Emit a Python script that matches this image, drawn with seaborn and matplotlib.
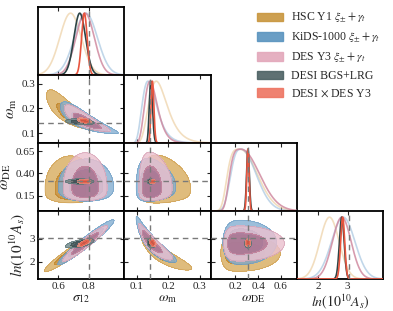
import numpy as np
import seaborn as sns
import matplotlib
matplotlib.use("Agg")
import matplotlib.pyplot as plt
from matplotlib.patches import Patch

sns.set_theme(style="ticks")
plt.rcParams['font.family'] = ['Liberation Serif', 'DejaVu Serif']
plt.rcParams['mathtext.fontset'] = 'stix'

# posterior summaries, one entry per probe
probes = ['HSC Y1 $\\xi_{\\pm}+\\gamma_{t}$',
          'KiDS-1000 $\\xi_{\\pm}+\\gamma_{t}$',
          'DES Y3 $\\xi_{\\pm}+\\gamma_{t}$',
          'DESI BGS+LRG',
          'DESI $\\times$ DES Y3']

s12_mean = [0.68, 0.78, 0.775, 0.74, 0.77]
s12_sd = [0.07, 0.075, 0.06, 0.038, 0.018]

omm_shift = 0.07          # omega_m modelled as log-normal in (omega_m - shift)
omm_median = [0.172, 0.144, 0.148, 0.145, 0.150]
omm_logsd = [0.32, 0.345, 0.28, 0.067, 0.056]

lnas_mean = [2.38, 2.85, 2.80, 2.80, 2.83]
lnas_sd = [0.33, 0.40, 0.32, 0.08, 0.07]

# omega_DE: split generalised gaussian (flat-topped for weak lensing)
wde_center = [0.24, 0.25, 0.25, 0.31, 0.31]
wde_sd_left = [0.11, 0.09, 0.10, 0.012, 0.010]
wde_sd_right = [0.15, 0.13, 0.16, 0.012, 0.010]
wde_pow_left = [4, 3, 4, 2, 2]
wde_pow_right = [2, 2, 2, 2, 2]

rho_s12_omm = [-0.85, -0.85, -0.85, -0.3, -0.5]
rho_s12_lnas = [0.95, 0.96, 0.95, 0.6, 0.8]
rho_omm_lnas = [-0.90, -0.92, -0.90, -0.3, -0.4]

truth = [0.80, 0.142, 0.31, 3.044]

param_labels = ['$\\sigma_{12}$', '$\\omega_{\\rm m}$', '$\\omega_{\\rm DE}$', '$ln(10^{10}A_s)$']
limits = [(0.468, 1.03), (0.06, 0.335), (-0.02, 0.74), (1.26, 4.21)]
ticks = [[0.6, 0.8], [0.1, 0.2, 0.3], [0.15, 0.40, 0.65], [2, 3]]
xticks = [[0.6, 0.8], [0.1, 0.2, 0.3], [0.2, 0.4, 0.6], [2, 3]]
ytick_fmt = ['%.1f', '%.1f', '%.2f', '%d']
xtick_fmt = ['%.1f', '%.1f', '%.1f', '%d']

# styles
fill_outer = ['#d9ad60', '#86b0d2', '#ebc1cf', '#6e8a8c', '#f4a18f']
fill_inner = ['#c08428', '#4a84b3', '#bd7894', '#34494b', '#e85a44']
line_cols = ['#e8c38c', '#8fb6d8', '#d08aa0', '#2c4446', '#e8553f']
line_alpha = [0.55, 0.55, 0.85, 1.0, 1.0]
legend_cols = ['#c8963e', '#5a94bf', '#e3a8bb', '#4d6264', '#ee7562']


def z_of(k, p, v):
    """standardised variable and jacobian for the gaussian-like params"""
    if p == 0:
        return (v - s12_mean[k]) / s12_sd[k], np.ones_like(v)
    if p == 1:
        d = np.clip(v - omm_shift, 1e-9, None)
        z = (np.log(d) - np.log(omm_median[k] - omm_shift)) / omm_logsd[k]
        jac = np.where(v > omm_shift, 1.0 / d, 0.0)
        return z, jac
    return (v - lnas_mean[k]) / lnas_sd[k], np.ones_like(v)


def wde_pdf(k, v):
    c = wde_center[k]
    left = v < c
    s = np.where(left, wde_sd_left[k], wde_sd_right[k])
    pw = np.where(left, wde_pow_left[k], wde_pow_right[k])
    return np.exp(-0.5 * np.abs((v - c) / s) ** pw)


def pdf1d(k, p, v):
    if p == 2:
        return wde_pdf(k, v)
    z, jac = z_of(k, p, v)
    return np.exp(-0.5 * z ** 2) * jac


def rho_of(k, p1, p2):
    pair = tuple(sorted((p1, p2)))
    return {(0, 1): rho_s12_omm, (0, 3): rho_s12_lnas, (1, 3): rho_omm_lnas}[pair][k]


def pdf2d(k, p1, X, p2, Y):
    if p1 == 2 or p2 == 2:
        return pdf1d(k, p1, X) * pdf1d(k, p2, Y)
    z1, j1 = z_of(k, p1, X)
    z2, j2 = z_of(k, p2, Y)
    r = rho_of(k, p1, p2)
    q = (z1 ** 2 - 2 * r * z1 * z2 + z2 ** 2) / (1 - r ** 2)
    return np.exp(-0.5 * q) * j1 * j2


def mass_levels(D, fracs=(0.95, 0.68)):
    flat = np.sort(D.ravel())[::-1]
    cs = np.cumsum(flat)
    cs /= cs[-1]
    return [flat[np.searchsorted(cs, f)] for f in fracs]


def grid_for(p, n=600):
    lo, hi = limits[p]
    span = hi - lo
    return np.linspace(lo - 0.5 * span, hi + 0.5 * span, n)


W, H = 393, 311
fig = plt.figure(figsize=(W / 100, H / 100), dpi=100)
left_px, top_px = 38, 7
cw, rh = 86.25, 68.0

npar = 4
for i in range(npar):
    for j in range(i + 1):
        ax = fig.add_axes([(left_px + j * cw) / W, 1 - (top_px + (i + 1) * rh) / H, cw / W, rh / H])
        for sp in ax.spines.values():
            sp.set_linewidth(1.3)
            sp.set_color('black')
            sp.set_visible(True)
        if i == j:
            xs = np.linspace(limits[j][0], limits[j][1], 500)
            for k in range(len(probes)):
                y = pdf1d(k, j, xs)
                y = y / y.max()
                sns.lineplot(x=xs, y=y, ax=ax, color=line_cols[k], alpha=line_alpha[k],
                             lw=1.2, zorder=2 + k)
            ax.axvline(truth[j], color='#7a7a7a', ls=(0, (4, 3)), lw=1.0, zorder=10)
            ax.set_ylim(0, 1.1)
            ax.set_yticks([])
            ax.tick_params(axis='x', direction='in', length=3, width=0.8, top=True, bottom=True)
        else:
            gx = grid_for(j)
            gy = grid_for(i)
            X, Y = np.meshgrid(gx, gy)
            for k in range(len(probes)):
                D = pdf2d(k, j, X, i, Y)
                t95, t68 = mass_levels(D)
                ax.contourf(X, Y, D, levels=[t95, t68, D.max() * 1.01],
                            colors=[fill_outer[k], fill_inner[k]], alpha=0.82, zorder=2 + k)
                ax.contour(X, Y, D, levels=[t95], colors=[fill_inner[k]],
                           linewidths=0.4, alpha=0.6, zorder=2 + k)
            ax.axvline(truth[j], color='#7a7a7a', ls=(0, (4, 3)), lw=1.0, zorder=10)
            ax.axhline(truth[i], color='#7a7a7a', ls=(0, (4, 3)), lw=1.0, zorder=10)
            ax.set_ylim(limits[i])
            ax.set_yticks(ticks[i])
            ax.tick_params(direction='in', length=3, width=0.8, top=True, right=True,
                           bottom=True, left=True)
            if j == 0:
                ax.set_yticklabels([ytick_fmt[i] % t for t in ticks[i]], fontsize=8)
                ax.set_ylabel(param_labels[i], fontsize=11, labelpad=2)
            else:
                ax.set_yticklabels([])
        ax.set_xlim(limits[j])
        ax.set_xticks(xticks[j])
        if i == npar - 1:
            ax.set_xticklabels([xtick_fmt[j] % t for t in xticks[j]], fontsize=8)
            ax.set_xlabel(param_labels[j], fontsize=10, labelpad=1)
        else:
            ax.set_xticklabels([])
        ax.tick_params(pad=2)
        ax.set_facecolor('white')

handles = [Patch(facecolor=c, edgecolor=c, alpha=0.9) for c in legend_cols]
fig.legend(handles, probes, loc='upper left', bbox_to_anchor=(257 / W, 1 - 11 / H),
           frameon=False, fontsize=8.5, handlelength=2.2, handleheight=0.75,
           handletextpad=0.65, labelspacing=0.45, borderpad=0, borderaxespad=0)

fig.savefig('out.png', dpi=100)
